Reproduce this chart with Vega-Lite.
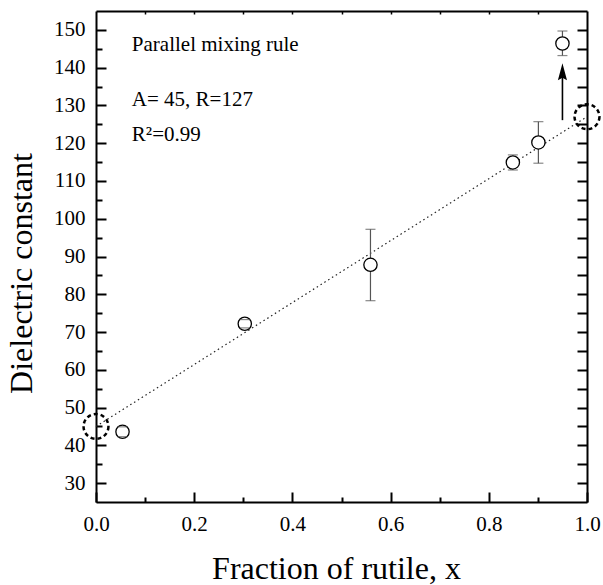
{
  "$schema": "https://vega.github.io/schema/vega-lite/v6.json",
  "width": 491,
  "height": 491,
  "autosize": {"type": "none"},
  "padding": {"left": 96, "top": 11, "right": 16, "bottom": 83},
  "background": "white",
  "config": {
    "view": {"stroke": null},
    "font": "Liberation Serif, Times New Roman, serif",
    "axis": {"domainColor": "black", "tickColor": "black", "labelColor": "black", "titleColor": "black", "labelFont": "Liberation Serif, Times New Roman, serif", "titleFont": "Liberation Serif, Times New Roman, serif", "grid": false, "labelFontSize": 21, "titleFontSize": 32, "titleFontWeight": "normal", "domainWidth": 2, "tickWidth": 2}
  },
  "datasets": {
    "fit": [{"x": 0, "y": 45}, {"x": 1, "y": 127}],
    "points": [
      {"x": 0.054, "y": 43.6, "lo": 42.3, "hi": 44.9},
      {"x": 0.303, "y": 72.2, "lo": 71.1, "hi": 73.3},
      {"x": 0.559, "y": 87.8, "lo": 78.3, "hi": 97.2},
      {"x": 0.849, "y": 114.9, "lo": 112.9, "hi": 116.9},
      {"x": 0.901, "y": 120.2, "lo": 114.7, "hi": 125.7},
      {"x": 0.95, "y": 146.4, "lo": 143.2, "hi": 149.7}
    ],
    "ends": [{"x": 0, "y": 45}, {"x": 1, "y": 127}],
    "arrow": [{"x": 0.95, "y": 126.1, "y2": 137.7}],
    "notes": [
      {"x": 0.073, "y": 144.5, "t": "Parallel mixing rule"},
      {"x": 0.073, "y": 129.8, "t": "A= 45, R=127"},
      {"x": 0.073, "y": 120.7, "t": "R²=0.99"}
    ]
  },
  "resolve": {"axis": {"x": "independent", "y": "independent"}},
  "layer": [
    {
      "data": {"name": "fit"},
      "mark": {"type": "line", "color": "#222", "strokeWidth": 1.2, "strokeDash": [1.5, 3]},
      "encoding": {
        "x": {"field": "x", "type": "quantitative", "scale": {"domain": [0, 1], "nice": false, "zero": false},
          "axis": {"orient": "bottom", "values": [0, 0.1, 0.2, 0.3, 0.4, 0.5, 0.6, 0.7, 0.8, 0.9, 1.0], "format": ".1f",
            "labelExpr": "indexof(['0.0','0.2','0.4','0.6','0.8','1.0'], datum.label) >= 0 ? datum.label : ''",
            "tickSize": {"condition": {"test": "abs(datum.value*5 - round(datum.value*5)) < 0.000001", "value": -10}, "value": -5},
            "labelPadding": 21, "labelFlush": false, "labelOverlap": false,
            "title": "Fraction of rutile, x", "titlePadding": 14, "titleX": 240}},
        "y": {"field": "y", "type": "quantitative", "scale": {"domain": [25, 155], "nice": false, "zero": false},
          "axis": {"orient": "left", "values": [30, 35, 40, 45, 50, 55, 60, 65, 70, 75, 80, 85, 90, 95, 100, 105, 110, 115, 120, 125, 130, 135, 140, 145, 150],
            "labelExpr": "datum.value % 10 === 0 ? datum.label : ''",
            "tickSize": {"condition": {"test": "datum.value % 10 === 0", "value": -10}, "value": -6},
            "labelPadding": 21, "labelOverlap": false,
            "title": "Dielectric constant", "titlePadding": 15, "titleY": 262}}
      }
    },
    {
      "data": {"name": "points"},
      "mark": {"type": "rule", "color": "#555", "strokeWidth": 1.2},
      "encoding": {
        "x": {"field": "x", "type": "quantitative", "scale": {"domain": [0, 1], "nice": false, "zero": false}, "axis": null},
        "y": {"field": "lo", "type": "quantitative", "scale": {"domain": [25, 155], "nice": false, "zero": false}, "axis": null},
        "y2": {"field": "hi"}
      }
    },
    {
      "data": {"name": "points"},
      "mark": {"type": "point", "shape": "circle", "size": 177, "filled": true, "fill": "white", "stroke": "black", "strokeWidth": 1.3, "opacity": 1},
      "encoding": {
        "x": {"field": "x", "type": "quantitative", "scale": {"domain": [0, 1], "nice": false, "zero": false},
          "axis": {"orient": "top", "values": [0.1, 0.2, 0.3, 0.4, 0.5, 0.6, 0.7, 0.8, 0.9], "labels": false, "tickSize": -3, "tickWidth": 1.5, "title": null}},
        "y": {"field": "y", "type": "quantitative", "scale": {"domain": [25, 155], "nice": false, "zero": false},
          "axis": {"orient": "right", "values": [30, 35, 40, 45, 50, 55, 60, 65, 70, 75, 80, 85, 90, 95, 100, 105, 110, 115, 120, 125, 130, 135, 140, 145, 150], "labels": false, "tickSize": -10, "title": null}}
      }
    },
    {
      "data": {"name": "points"},
      "transform": [{"fold": ["lo", "hi"], "as": ["end", "v"]}],
      "mark": {"type": "tick", "orient": "horizontal", "color": "#555", "size": 10, "thickness": 1.2},
      "encoding": {
        "x": {"field": "x", "type": "quantitative", "scale": {"domain": [0, 1], "nice": false, "zero": false}, "axis": null},
        "y": {"field": "v", "type": "quantitative", "scale": {"domain": [25, 155], "nice": false, "zero": false}, "axis": null}
      }
    },
    {
      "data": {"name": "ends"},
      "mark": {"type": "point", "shape": "circle", "size": 620, "filled": false, "stroke": "black", "strokeWidth": 2.5, "strokeDash": [4, 3], "opacity": 1},
      "encoding": {
        "x": {"field": "x", "type": "quantitative", "scale": {"domain": [0, 1], "nice": false, "zero": false}, "axis": null},
        "y": {"field": "y", "type": "quantitative", "scale": {"domain": [25, 155], "nice": false, "zero": false}, "axis": null}
      }
    },
    {
      "data": {"name": "arrow"},
      "mark": {"type": "rule", "color": "black", "strokeWidth": 1.6},
      "encoding": {
        "x": {"field": "x", "type": "quantitative", "scale": {"domain": [0, 1], "nice": false, "zero": false}, "axis": null},
        "y": {"field": "y", "type": "quantitative", "scale": {"domain": [25, 155], "nice": false, "zero": false}, "axis": null},
        "y2": {"field": "y2"}
      }
    },
    {
      "data": {"name": "arrow"},
      "mark": {"type": "point", "shape": "M0,-1L0.35,0.3L0,0.1L-0.35,0.3Z", "size": 676, "filled": true, "color": "black", "opacity": 1},
      "encoding": {
        "x": {"field": "x", "type": "quantitative", "scale": {"domain": [0, 1], "nice": false, "zero": false}, "axis": null},
        "y": {"field": "y2", "type": "quantitative", "scale": {"domain": [25, 155], "nice": false, "zero": false}, "axis": null}
      }
    },
    {
      "data": {"name": "notes"},
      "mark": {"type": "text", "align": "left", "baseline": "alphabetic", "fontSize": 21, "font": "Liberation Serif, Times New Roman, serif", "color": "black"},
      "encoding": {
        "x": {"field": "x", "type": "quantitative", "scale": {"domain": [0, 1], "nice": false, "zero": false}, "axis": null},
        "y": {"field": "y", "type": "quantitative", "scale": {"domain": [25, 155], "nice": false, "zero": false}, "axis": null},
        "text": {"field": "t"}
      }
    }
  ]
}
